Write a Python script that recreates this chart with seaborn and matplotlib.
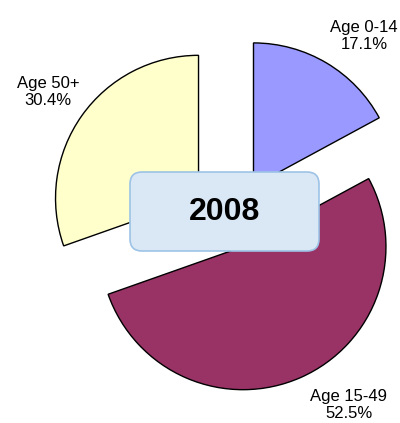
import matplotlib
matplotlib.use('Agg')
import matplotlib.pyplot as plt
from matplotlib.patches import FancyBboxPatch
import seaborn as sns

# Dados
grupos = ['Age 0-14', 'Age 15-49', 'Age 50+']
percentuais = [17.1, 52.5, 30.4]
cores = ['#9999FF', '#993366', '#FFFFCC']
ano = '2008'

sns.set_style("white")
plt.rcParams['font.family'] = ['Liberation Sans', 'DejaVu Sans']

fig = plt.figure(figsize=(4.0, 4.23), dpi=100)
ax = fig.add_axes([0, 0, 1, 1])

# pie em coordenadas de pixel (eixo y para cima)
ax.pie(percentuais, colors=cores, startangle=90, counterclock=False,
       radius=143, center=(232, 201), explode=[42, 27, 41],
       wedgeprops=dict(edgecolor='black', linewidth=1))

ax.set_xlim(0, 400)
ax.set_ylim(0, 423)
ax.set_aspect('equal')
ax.axis('off')

# Rótulos
posicoes = [(364, 423 - 36), (349, 423 - 405), (48, 423 - 92)]
for g, p, (x, y) in zip(grupos, percentuais, posicoes):
    ax.text(x, y, f'{g}\n{p:.1f}%', ha='center', va='center',
            fontsize=12, color='black', linespacing=1.2)

# Caixa central com o ano
caixa = FancyBboxPatch((130, 423 - 251), 189, 79,
                       boxstyle='round,pad=0,rounding_size=12',
                       facecolor='#DAE7F5', edgecolor='#9DC3E6', linewidth=1.2,
                       zorder=5)
ax.add_patch(caixa)
ax.text(224.5, 423 - 211.5, ano, ha='center', va='center',
        fontsize=23, fontweight='bold', color='black', zorder=6)

fig.savefig('out.png', dpi=100)
